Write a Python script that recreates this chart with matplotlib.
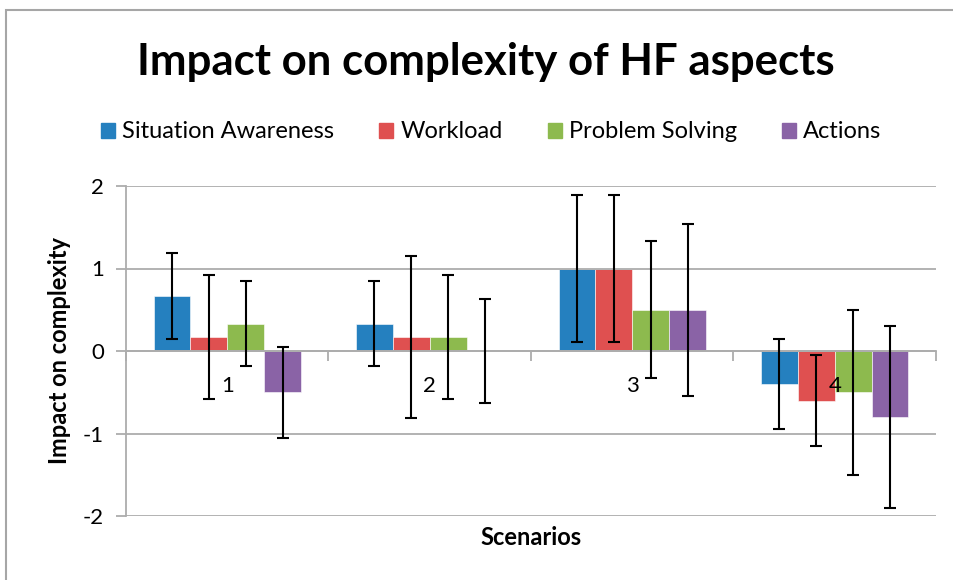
import matplotlib
matplotlib.use('Agg')
import matplotlib.pyplot as plt
from matplotlib.patches import Rectangle
import numpy as np

plt.rcParams['font.family'] = ['Lato', 'DejaVu Sans']

scenarios = ['1', '2', '3', '4']
series = ['Situation Awareness', 'Workload', 'Problem Solving', 'Actions']
colors = ['#2580BF', '#DF5050', '#8DBA4E', '#8A63A6']

# mean impact per scenario, one list per aspect
situation_awareness = [0.667, 0.333, 1.0, -0.4]
workload = [0.167, 0.167, 1.0, -0.6]
problem_solving = [0.333, 0.167, 0.5, -0.5]
actions = [-0.5, 0.0, 0.5, -0.8]

# error bar half-widths
sa_err = [0.52, 0.52, 0.89, 0.55]
wl_err = [0.75, 0.98, 0.89, 0.55]
ps_err = [0.52, 0.75, 0.83, 1.0]
ac_err = [0.55, 0.63, 1.04, 1.1]

values = [situation_awareness, workload, problem_solving, actions]
errors = [sa_err, wl_err, ps_err, ac_err]

fig = plt.figure(figsize=(9.54, 5.8), dpi=100)
ax = fig.add_axes([126/954, 1 - 516/580, 810/954, 330/580])

x = np.arange(len(scenarios))
w = 0.182
for i in range(len(series)):
    pos = x + (i - 1.5) * w
    ax.bar(pos, values[i], w, color=colors[i], edgecolor='white', linewidth=0.4,
           label=series[i], zorder=1)
    ax.errorbar(pos, values[i], yerr=errors[i], fmt='none', ecolor='black',
                elinewidth=1.5, capsize=4, capthick=1.5, zorder=3)

ax.set_xlim(-0.5, len(scenarios) - 0.5)
ax.set_ylim(-2, 2)
ax.set_yticks([-2, -1, 0, 1, 2])
ax.set_yticklabels(['-2', '-1', '0', '1', '2'])
ax.yaxis.grid(True, color='#ADADAD', linewidth=1.3)
ax.set_axisbelow(False)

for s in ['top', 'right']:
    ax.spines[s].set_visible(False)
ax.spines['left'].set_color('#ADADAD')
ax.spines['left'].set_linewidth(1.3)
ax.spines['bottom'].set_position(('data', 0))
ax.spines['bottom'].set_color('#ADADAD')
ax.spines['bottom'].set_linewidth(1.3)

ax.set_xticks(np.arange(len(scenarios) + 1) - 0.5)
ax.set_xticklabels([])
ax.set_xticks(x, minor=True)
ax.set_xticklabels(scenarios, minor=True)
ax.tick_params(axis='x', which='major', length=7, width=1.3, color='#ADADAD')
ax.tick_params(axis='x', which='minor', length=0, pad=18, labelsize=16)
ax.tick_params(axis='y', length=7, width=1.3, color='#ADADAD', pad=9, labelsize=16)

ax.set_ylabel('Impact on complexity', fontsize=17, fontweight='bold')
ax.yaxis.set_label_coords(-0.068, 0.5)
ax.set_xlabel('Scenarios', fontsize=17, fontweight='bold')
ax.xaxis.set_label_coords(0.5, -0.064)
ax.xaxis.label.set_va('center')

fig.text(0.509, 1 - 62/580, 'Impact on complexity of HF aspects', ha='center', va='center',
         fontsize=31.5, fontweight='bold')

handles = [Rectangle((0, 0), 1, 1, color=c) for c in colors]
fig.legend(handles, series, loc='center', bbox_to_anchor=(0.515, 1 - 132/580), ncol=4,
           frameon=False, fontsize=17, handlelength=0.6, handleheight=0.6,
           handletextpad=0.3, columnspacing=1.9)

fig.patches.append(Rectangle((6/954, -0.05), 1.2, 1.05 - 10/580, transform=fig.transFigure,
                             fill=False, edgecolor='#A6A6A6', linewidth=1.5))

fig.savefig('out.png', dpi=100)
